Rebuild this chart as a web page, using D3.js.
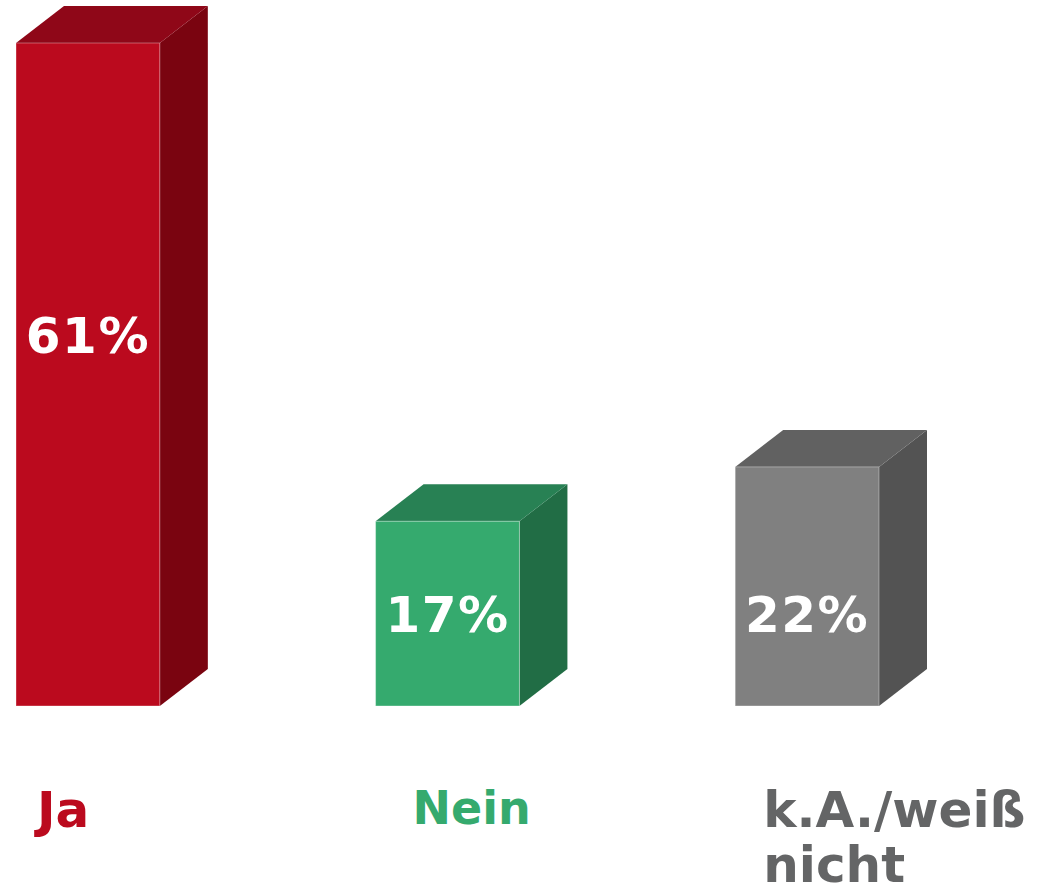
<!DOCTYPE html>
<html lang="de">
<head>
<meta charset="utf-8">
<title>Umfrage</title>
<script src="https://cdn.jsdelivr.net/npm/d3@7/dist/d3.min.js"></script>
<style>
  html, body { margin: 0; padding: 0; background: #fff; }
  svg text { font-family: "DejaVu Sans", Verdana, sans-serif; font-weight: bold; }
</style>
</head>
<body>
<script>
// data
var categories = ["Ja", "Nein", "k.A./weiß nicht"];
var values = [61, 17, 22];
var labelLines = [["Ja"], ["Nein"], ["k.A./weiß", "nicht"]];

// colours per bar: front, top, side, label
var frontColors = ["#bb0a1e", "#35aa6e", "#808080"];
var topColors = ["#8f0718", "#288154", "#616161"];
var sideColors = ["#7a0410", "#216d45", "#535353"];
var textColors = ["#bb0a1e", "#35aa6e", "#646566"];

var width = 1037, height = 886;
var depthX = 48, depthY = 37;
// layout tweaks for the category labels (offset from bar, font size, baseline)
var labelShift = [21, 37, 28];
var labelSize = [50, 46, 50];
var labelBase = [827, 824, 827];

var svg = d3.select("body").append("svg")
    .attr("width", width)
    .attr("height", height);

var xScale = d3.scaleBand()
    .domain(categories)
    .range([16, 879])
    .paddingInner(0.6)
    .paddingOuter(0);

var yScale = d3.scaleLinear()
    .domain([0, d3.max(values)])
    .range([706, 43]);

var bw = xScale.bandwidth();

var bars = svg.selectAll("g.bar")
    .data(values)
    .enter()
    .append("g")
    .attr("class", "bar");

// side face
bars.append("path")
    .attr("fill", function(d, i) { return sideColors[i]; })
    .attr("d", function(d, i) {
        var x1 = xScale(categories[i]) + bw, y0 = yScale(0), y1 = yScale(d);
        return "M" + x1 + "," + y1 + "L" + (x1 + depthX) + "," + (y1 - depthY) +
            "L" + (x1 + depthX) + "," + (y0 - depthY) + "L" + x1 + "," + y0 + "Z";
    });

// top face
bars.append("path")
    .attr("fill", function(d, i) { return topColors[i]; })
    .attr("d", function(d, i) {
        var x0 = xScale(categories[i]), y1 = yScale(d);
        return "M" + x0 + "," + y1 + "L" + (x0 + depthX) + "," + (y1 - depthY) +
            "L" + (x0 + bw + depthX) + "," + (y1 - depthY) + "L" + (x0 + bw) + "," + y1 + "Z";
    });

// front face
bars.append("rect")
    .attr("x", function(d, i) { return xScale(categories[i]); })
    .attr("y", function(d) { return yScale(d); })
    .attr("width", bw)
    .attr("height", function(d) { return yScale(0) - yScale(d); })
    .attr("fill", function(d, i) { return frontColors[i]; })
    .attr("stroke", "rgba(255,255,255,0.35)")
    .attr("stroke-width", 1);

// value labels inside the bars (tall bar: upper middle, short bars: near the foot)
bars.append("text")
    .attr("x", function(d, i) { return xScale(categories[i]) + bw / 2; })
    .attr("y", function(d) {
        var mid = d > 30 ? d * 0.56 : 8.5;
        return yScale(mid) + 18;
    })
    .attr("text-anchor", "middle")
    .attr("font-size", "50px")
    .attr("letter-spacing", "1.5px")
    .attr("fill", "#fff")
    .text(function(d) { return d + "%"; });

// category labels below
var catLabels = svg.selectAll("text.cat")
    .data(labelLines)
    .enter()
    .append("text")
    .attr("class", "cat")
    .attr("x", function(d, i) { return xScale(categories[i]) + labelShift[i]; })
    .attr("y", function(d, i) { return labelBase[i]; })
    .attr("font-size", function(d, i) { return labelSize[i] + "px"; })
    .attr("fill", function(d, i) { return textColors[i]; });

catLabels.selectAll("tspan")
    .data(function(d) { return d; })
    .enter()
    .append("tspan")
    .attr("x", function() { return d3.select(this.parentNode).attr("x"); })
    .attr("dy", function(d, j) { return j === 0 ? 0 : 55; })
    .text(function(d) { return d; });
</script>
</body>
</html>
